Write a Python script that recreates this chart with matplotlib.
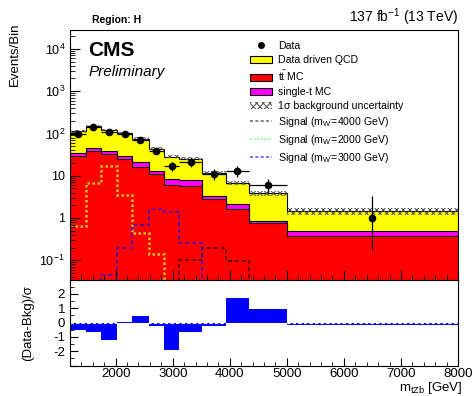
import numpy as np
import matplotlib
matplotlib.use("Agg")
import matplotlib.pyplot as plt
from matplotlib.lines import Line2D
from matplotlib.patches import Patch
from matplotlib.ticker import MultipleLocator, FixedLocator, LogLocator, NullFormatter

plt.rcParams['font.family'] = ['Liberation Sans', 'DejaVu Sans']
plt.rcParams['mathtext.fontset'] = 'custom'
plt.rcParams['mathtext.rm'] = 'Liberation Sans'
plt.rcParams['mathtext.it'] = 'Liberation Sans:italic'
plt.rcParams['mathtext.bf'] = 'Liberation Sans:bold'
plt.rcParams['hatch.linewidth'] = 0.7

# bin edges of m_tZb [GeV]
edges = np.array([1200, 1475, 1740, 2030, 2290, 2580, 2850, 3110, 3520, 3930, 4340, 5000, 8000])

# backgrounds (events per bin)
ttbar = [29, 38, 33, 25, 16, 11, 6.0, 5.7, 2.8, 1.6, 0.78, 0.37]
singlet = [6, 7, 6, 5, 5, 2.2, 2.3, 2.0, 0.5, 0.5, 0.05, 0.12]
qcd = [77, 103, 81, 72, 54, 29.8, 19.7, 17.8, 8.5, 4.7, 2.97, 0.96]
bkg_unc = [7, 9, 7.5, 7, 5.5, 3.5, 2.4, 2.2, 1.2, 0.7, 0.45, 0.3]

# data
data = [98, 141, 110, 97, 70, 39, 17, 21, 11, 13, 6, 1]
data_lo = [9.9, 11.9, 10.5, 9.8, 8.4, 6.2, 4.1, 4.6, 3.3, 3.6, 2.4, 0.83]
data_hi = [9.9, 11.9, 10.5, 9.8, 8.4, 6.2, 4.1, 4.6, 3.3, 3.6, 2.4, 2.3]

# signals
sig4000 = [0, 0, 0, 0, 0, 0, 0, 0.1, 0.19, 0.095, 0, 0]
sig2000 = [0.65, 6.9, 16.6, 3.5, 0.43, 0.14, 0, 0, 0, 0, 0, 0]
sig3000 = [0, 0, 0.044, 0.19, 0.69, 1.65, 1.4, 0.25, 0, 0, 0, 0]

# (Data-Bkg)/sigma
pulls = [-0.5, -0.67, -1.2, 0.06, 0.46, -0.23, -1.9, -0.67, -0.23, 1.69, 0.93, -0.2]

ttbar = np.array(ttbar)
lay2 = ttbar + np.array(singlet)
total = lay2 + np.array(qcd)
unc = np.array(bkg_unc)
centers = 0.5 * (edges[1:] + edges[:-1])
halfw = 0.5 * np.diff(edges)
xerr = halfw.copy()
xerr[-1] = 0

W, H = 477, 396
fig = plt.figure(figsize=(W / 100, H / 100), dpi=100)
ax = fig.add_axes([70 / W, 1 - 279.5 / H, 388 / W, 249.5 / H])
ax2 = fig.add_axes([70 / W, 1 - 365.5 / H, 388 / W, 86 / H])

base = 1e-3
ax.set_yscale('log')
ax.stairs(total, edges, baseline=base, fill=True, facecolor='#ffff00', edgecolor='black', lw=0.8)
ax.stairs(lay2, edges, baseline=base, fill=True, facecolor='#ff00ff', edgecolor='black', lw=0.8)
ax.stairs(ttbar, edges, baseline=base, fill=True, facecolor='#ff0000', edgecolor='black', lw=0.8)
ax.bar(edges[:-1], 2 * unc, bottom=total - unc, width=np.diff(edges), align='edge',
       fill=False, hatch='xxxxx', edgecolor='0.3', linewidth=0)

ax.stairs(sig4000, edges, baseline=None, color='black', ls=(0, (2, 1.5)), lw=1.4, alpha=0.6)
ax.stairs(sig2000, edges, baseline=None, color='#ccff33', ls=(0, (1, 1)), lw=1.8, alpha=0.75)
ax.stairs(sig3000, edges, baseline=None, color='#0000ff', ls=(0, (2, 1.5)), lw=1.4, alpha=0.6)

ax.errorbar(centers, data, yerr=[data_lo, data_hi], xerr=xerr, fmt='o', color='black',
            ms=4.5, lw=0.9, capsize=0)

ax.set_xlim(1200, 8000)
ax.set_ylim(0.035, 2.8e4)
ax.xaxis.set_major_locator(MultipleLocator(1000))
ax.xaxis.set_minor_locator(MultipleLocator(200))
ax.xaxis.set_major_formatter(NullFormatter())
ax.yaxis.set_major_locator(FixedLocator([0.1, 1, 10, 100, 1000, 10000]))
ax.yaxis.set_major_formatter(plt.FuncFormatter(
    lambda v, p: {0.1: r'$10^{-1}$', 1: '1', 10: '10', 100: r'$10^{2}$',
                  1000: r'$10^{3}$', 10000: r'$10^{4}$'}.get(round(v, 1), '')))
ax.yaxis.set_minor_locator(LogLocator(base=10, subs=np.arange(2, 10), numticks=20))
ax.yaxis.set_minor_formatter(NullFormatter())
ax.tick_params(which='both', direction='in', labelsize=9)
ax.tick_params(which='major', length=7)
ax.tick_params(which='minor', length=3.5)

handles = [
    Line2D([], [], marker='o', color='black', ls='none', ms=4),
    Patch(facecolor='#ffff00', edgecolor='black', lw=0.8),
    Patch(facecolor='#ff0000', edgecolor='black', lw=0.8),
    Patch(facecolor='#ff00ff', edgecolor='black', lw=0.8),
    Patch(facecolor='white', edgecolor='0.3', hatch='xxxxx', lw=0),
    Line2D([], [], color='black', ls=(0, (2, 1.5)), lw=1.1, alpha=0.6),
    Line2D([], [], color='#66ff66', ls=(0, (1, 1)), lw=1.3, alpha=0.8),
    Line2D([], [], color='#0000ff', ls=(0, (2, 1.5)), lw=1.1, alpha=0.7),
]
labels = ['Data', 'Data driven QCD', r'$\mathrm{t\bar{t}}$ MC', 'single-t MC',
          '1σ background uncertainty',
          r"Signal (m$_{\mathrm{W'}}$=4000 GeV)",
          r"Signal (m$_{\mathrm{W'}}$=2000 GeV)",
          r"Signal (m$_{\mathrm{W'}}$=3000 GeV)"]
ax.legend(handles, labels, loc='upper left', bbox_to_anchor=((250 - 70) / 388, (279.5 - 41) / 249.5),
          frameon=False, fontsize=7.6, borderpad=0, borderaxespad=0, handlelength=2.1,
          handleheight=0.7, handletextpad=0.55, labelspacing=0.38)

ax2.bar(edges[:-1], pulls, width=np.diff(edges), align='edge', color='#0000ff', lw=0)
ax2.axhline(0, color='white', ls=(0, (3, 2)), lw=0.8)
ax2.set_xlim(1200, 8000)
ax2.set_ylim(-3, 3)
ax2.xaxis.set_major_locator(MultipleLocator(1000))
ax2.xaxis.set_minor_locator(MultipleLocator(200))
ax2.yaxis.set_major_locator(MultipleLocator(1))
ax2.yaxis.set_minor_locator(MultipleLocator(0.5))
ax2.yaxis.set_major_formatter(plt.FuncFormatter(lambda v, p: '' if abs(v) > 2.5 else '%d' % v))
ax2.tick_params(which='both', direction='in')
ax2.tick_params(axis='x', labelsize=9.5, pad=1.5)
ax2.tick_params(axis='y', labelsize=9.5)
ax2.tick_params(which='major', length=6)
ax2.tick_params(which='minor', length=3)

fig.text(15 / W, 1 - 23 / H, 'Events/Bin', rotation=90, ha='center', va='top', fontsize=9.5)
fig.text(28 / W, 1 - 323 / H, '(Data-Bkg)/σ', rotation=90, ha='center', va='center', fontsize=9.5)
fig.text(463 / W, 1 - 391.5 / H, r'm$_{\mathrm{tZb}}$ [GeV]', ha='right', va='baseline', fontsize=9.5)
fig.text(92 / W, 1 - 20 / H, 'Region: H', ha='left', va='center', fontsize=7.5, fontweight='bold')
fig.text(458 / W, 1 - 17 / H, r'137 fb$^{-1}$ (13 TeV)', ha='right', va='center', fontsize=10)
fig.text(88 / W, 1 - 50 / H, 'CMS', ha='left', va='center', fontsize=15, fontweight='bold')
fig.text(89 / W, 1 - 72 / H, 'Preliminary', ha='left', va='center', fontsize=11, fontstyle='italic')

fig.savefig('out.png', dpi=100)
